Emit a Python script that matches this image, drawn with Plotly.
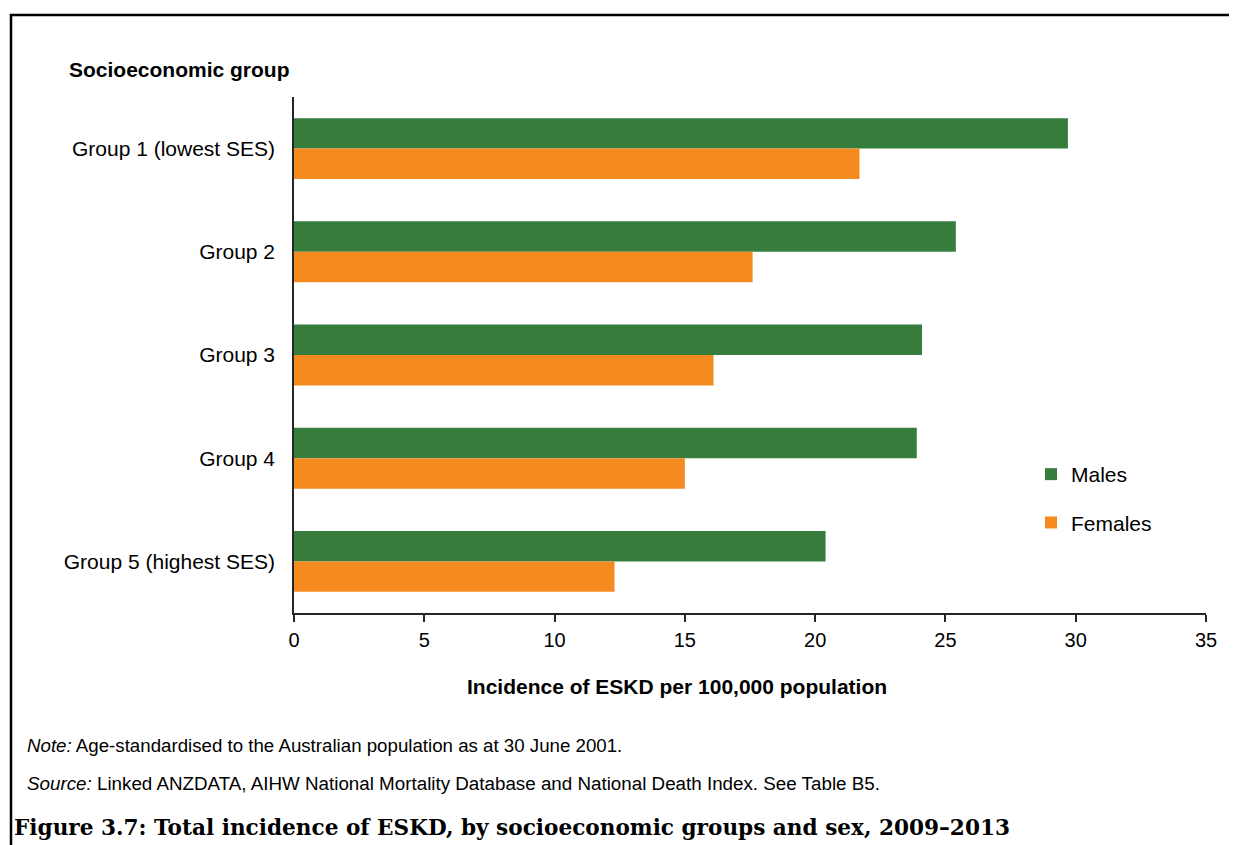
import plotly.graph_objects as go

# ---- data ----
groups = ["Group 1 (lowest SES)", "Group 2", "Group 3", "Group 4", "Group 5 (highest SES)"]
males = [29.7, 25.4, 24.1, 23.9, 20.4]
females = [21.7, 17.6, 16.1, 15.0, 12.3]
x_ticks = [0, 5, 10, 15, 20, 25, 30, 35]

# ---- layout geometry (screen pixels; page body adds an 8px offset) ----
OFF = 8
W, H = 1237 - OFF, 845 - OFF
L, R, T, B = 294 - OFF, 31, 97 - OFF, 232

def px(x):
    return (x - OFF - L) / (W - L - R)

def py(y):
    return (H - B - (y - OFF)) / (H - T - B)

GREEN = "#367D3D"
ORANGE = "#F58A20"
SANS = "Liberation Sans, Arial, sans-serif"
SERIF = "DejaVu Serif, serif"

fig = go.Figure()
fig.add_trace(go.Bar(y=groups, x=males, orientation="h", name="Males",
                     marker=dict(color=GREEN, line=dict(width=0)), legendgroup="m"))
fig.add_trace(go.Bar(y=groups, x=females, orientation="h", name="Females",
                     marker=dict(color=ORANGE, line=dict(width=0)), legendgroup="f"))

fig.update_layout(
    width=W, height=H,
    margin=dict(l=L, r=R, t=T, b=B, pad=0),
    paper_bgcolor="white", plot_bgcolor="white",
    barmode="group", bargap=0.41, bargroupgap=0,
    font=dict(family=SANS, size=21, color="black"),
    showlegend=True,
    legend=dict(x=px(1031), y=py(454), xanchor="left", yanchor="top",
                font=dict(size=21, family=SANS), bgcolor="rgba(0,0,0,0)",
                traceorder="grouped", tracegroupgap=18, itemwidth=30),
    xaxis=dict(range=[0, 35], tickvals=x_ticks, ticks="outside", ticklen=7,
               tickwidth=1.5, tickcolor="#262626", showline=True, linecolor="#262626",
               linewidth=1.5, showgrid=False, zeroline=False,
               tickfont=dict(size=20, family=SANS), ticklabelstandoff=1),
    yaxis=dict(categoryorder="array", categoryarray=groups, autorange="reversed",
               showline=True, linecolor="#262626", linewidth=1.5, ticks="",
               showgrid=False, zeroline=False, tickfont=dict(size=21, family=SANS),
               ticklabelstandoff=13),
)

annotations = [
    dict(text="<b>Socioeconomic group</b>", x=px(67), y=py(70), xanchor="left",
         yanchor="middle", font=dict(size=21, family=SANS)),
    dict(text="<b>Incidence of ESKD per 100,000 population</b>", x=px(677), y=py(686),
         xanchor="center", yanchor="middle", font=dict(size=21, family=SANS)),
    dict(text="<i>Note:</i> Age-standardised to the Australian population as at 30 June 2001.",
         x=px(25), y=py(745), xanchor="left", yanchor="middle", font=dict(size=18.7, family=SANS)),
    dict(text="<i>Source:</i> Linked ANZDATA, AIHW National Mortality Database and National Death Index. See Table B5.",
         x=px(25), y=py(783), xanchor="left", yanchor="middle", font=dict(size=18.8, family=SANS)),
    dict(text="<b>Figure 3.7: Total incidence of ESKD, by socioeconomic groups and sex, 2009–2013</b>",
         x=px(12), y=py(827), xanchor="left", yanchor="middle", font=dict(size=21.6, family=SERIF)),
]
for a in annotations:
    a.update(xref="paper", yref="paper", showarrow=False)
fig.update_layout(annotations=annotations)

fig.add_shape(type="rect", xref="paper", yref="paper",
              x0=px(11), x1=px(1260), y0=py(15), y1=py(870),
              line=dict(color="black", width=2.5), fillcolor="rgba(0,0,0,0)")

fig.write_html("out.html")
